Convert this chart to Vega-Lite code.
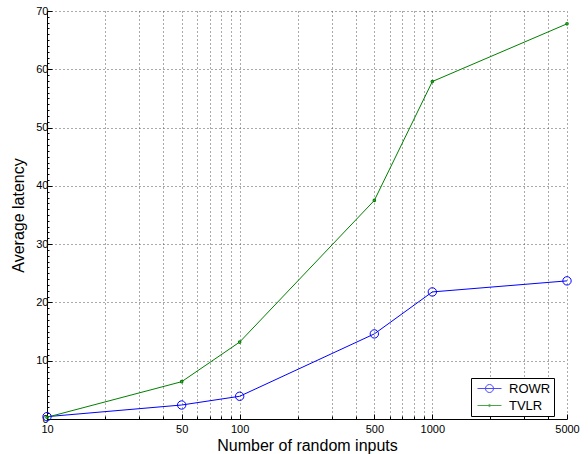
{
  "$schema": "https://vega.github.io/schema/vega-lite/v6.json",
  "width": 520,
  "height": 408,
  "autosize": {"type": "none"},
  "padding": {"left": 47, "top": 11, "right": 21, "bottom": 35},
  "background": "white",
  "config": {
    "view": {"stroke": null},
    "font": "Liberation Sans",
    "axis": {
      "labelFont": "Liberation Sans",
      "labelFontSize": 11,
      "labelColor": "#000",
      "titleFont": "Liberation Sans",
      "titleFontSize": 16,
      "titleFontWeight": "normal",
      "titleColor": "#000",
      "domainColor": "#000",
      "domainWidth": 1,
      "tickColor": "#000",
      "tickWidth": 1,
      "gridColor": "#555",
      "gridDash": [1, 3],
      "gridWidth": 1
    },
    "legend": {
      "labelFont": "Liberation Sans",
      "labelFontSize": 13,
      "labelColor": "#000"
    }
  },
  "data": {
    "values": [
      {"inputs": 10, "latency": 0.4, "method": "ROWR"},
      {"inputs": 50, "latency": 2.4, "method": "ROWR"},
      {"inputs": 100, "latency": 3.9, "method": "ROWR"},
      {"inputs": 500, "latency": 14.6, "method": "ROWR"},
      {"inputs": 1000, "latency": 21.8, "method": "ROWR"},
      {"inputs": 5000, "latency": 23.7, "method": "ROWR"},
      {"inputs": 10, "latency": 0.3, "method": "TVLR"},
      {"inputs": 50, "latency": 6.4, "method": "TVLR"},
      {"inputs": 100, "latency": 13.2, "method": "TVLR"},
      {"inputs": 500, "latency": 37.5, "method": "TVLR"},
      {"inputs": 1000, "latency": 57.9, "method": "TVLR"},
      {"inputs": 5000, "latency": 67.8, "method": "TVLR"}
    ]
  },
  "encoding": {
    "x": {
      "field": "inputs",
      "type": "quantitative",
      "scale": {"type": "log", "domain": [10, 5000], "nice": false},
      "axis": {
        "title": "Number of random inputs",
        "values": [10, 20, 30, 40, 50, 60, 70, 80, 90, 100, 200, 300, 400, 500, 600, 700, 800, 900, 1000, 2000, 3000, 4000, 5000],
        "format": "d",
        "labelExpr": "indexof([10, 50, 100, 500, 1000, 5000], datum.value) >= 0 ? datum.label : ''",
        "labelFlush": false,
        "labelOverlap": false,
        "labelPadding": 9,
        "tickSize": {"condition": {"test": "indexof([10, 50, 100, 500, 1000, 5000], datum.value) >= 0", "value": -5}, "value": -3},
        "grid": true,
        "titlePadding": 1
      }
    },
    "y": {
      "field": "latency",
      "type": "quantitative",
      "scale": {"domain": [0, 70], "nice": false},
      "axis": {
        "title": "Average latency",
        "values": [0,1,2,3,4,5,6,7,8,9,10,11,12,13,14,15,16,17,18,19,20,21,22,23,24,25,26,27,28,29,30,31,32,33,34,35,36,37,38,39,40,41,42,43,44,45,46,47,48,49,50,51,52,53,54,55,56,57,58,59,60,61,62,63,64,65,66,67,68,69,70],
        "labelExpr": "datum.value % 10 === 0 ? datum.label : ''",
        "labelOverlap": false,
        "labelFlush": false,
        "labelPadding": 4,
        "tickSize": {"condition": {"test": "datum.value % 10 === 0", "value": -5}, "value": -2},
        "grid": true,
        "gridOpacity": {"condition": {"test": "datum.value % 10 === 0 && datum.value > 0", "value": 1}, "value": 0},
        "titlePadding": 9
      }
    }
  },
  "layer": [
    {
      "transform": [{"filter": "datum.method === 'ROWR'"}],
      "mark": {"type": "line", "strokeWidth": 1, "color": "#0000ff"},
      "encoding": {}
    },
    {
      "transform": [{"filter": "datum.method === 'TVLR'"}],
      "mark": {"type": "line", "strokeWidth": 1, "color": "#008000"},
      "encoding": {}
    },
    {
      "transform": [{"filter": "datum.method === 'ROWR'"}],
      "mark": {"type": "point", "filled": false, "strokeWidth": 1, "opacity": 1, "color": "#0000ff", "size": 70},
      "encoding": {}
    },
    {
      "transform": [{"filter": "datum.method === 'TVLR'"}],
      "mark": {"type": "point", "filled": false, "strokeWidth": 1.2, "opacity": 1, "color": "#008000", "size": 6},
      "encoding": {}
    },
    {
      "transform": [{"filter": "datum.inputs < 0"}],
      "mark": {"type": "point", "filled": false, "strokeWidth": 1},
      "encoding": {
        "color": {
          "field": "method",
          "type": "nominal",
          "scale": {"domain": ["ROWR", "TVLR"], "range": ["#0000ff", "#008000"]},
          "legend": {
            "title": null,
            "orient": "none",
            "legendX": 424,
            "legendY": 367,
            "padding": 3,
            "fillColor": "white",
            "strokeColor": "black",
            "symbolSize": 196,
            "symbolStrokeWidth": 1,
            "rowPadding": 2,
            "labelOffset": 20,
            "labelExpr": "datum.label + '   '"
          }
        },
        "shape": {
          "field": "method",
          "type": "nominal",
          "scale": {"domain": ["ROWR", "TVLR"], "range": ["M-0.571,0L2.857,0M1.714,0A0.571,0.571,0,1,1,0.571,0A0.571,0.571,0,1,1,1.714,0", "M-0.571,0L2.857,0M1.3,0A0.157,0.157,0,1,1,0.986,0A0.157,0.157,0,1,1,1.3,0"]},
          "legend": {
            "title": null,
            "orient": "none",
            "legendX": 424,
            "legendY": 367,
            "padding": 3,
            "fillColor": "white",
            "strokeColor": "black",
            "symbolSize": 196,
            "symbolStrokeWidth": 1,
            "rowPadding": 2,
            "labelOffset": 20,
            "labelExpr": "datum.label + '   '"
          }
        }
      }
    }
  ]
}
